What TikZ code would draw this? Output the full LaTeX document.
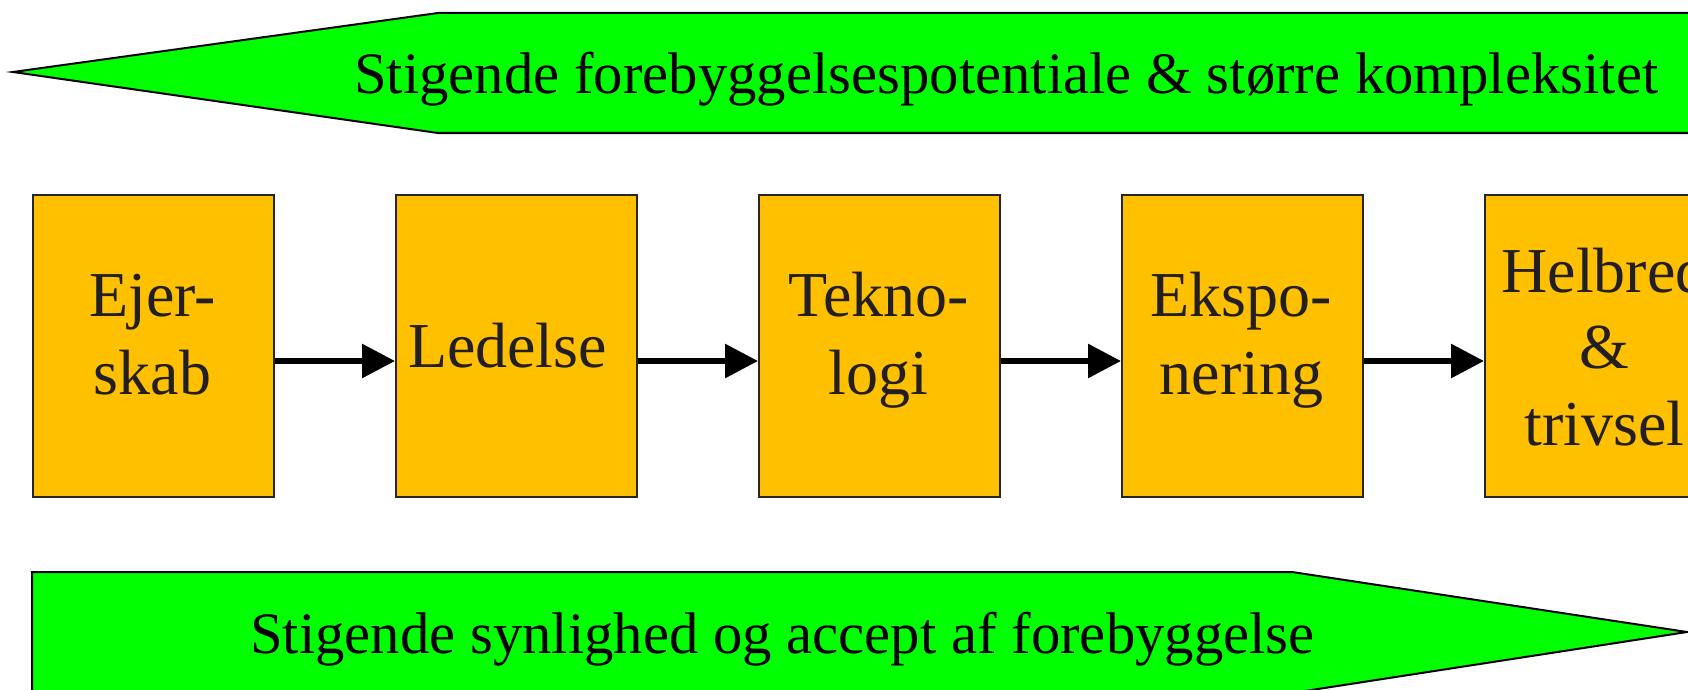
\documentclass[tikz,border=0pt]{standalone}
\usepackage{fontspec}
\setmainfont{Liberation Serif}
\usetikzlibrary{arrows.meta}
\definecolor{bandgreen}{HTML}{00FF00}
\definecolor{boxorange}{HTML}{FFC000}
\definecolor{boxtext}{HTML}{231F20}
\tikzset{
  band/.style={fill=bandgreen, draw=black, line width=2pt, line join=miter},
  stepbox/.style={rectangle, fill=boxorange, draw=black!85, line width=2pt,
    minimum width=241pt, minimum height=302pt, inner sep=0pt, anchor=north west},
  boxlbl/.style={inner sep=0pt, anchor=base, text=boxtext, font=\fontsize{64}{76}\selectfont},
  bandlbl/.style={inner sep=0pt, anchor=base west, text=black, font=\fontsize{58.7}{70}\selectfont},
  flow/.style={line width=6pt, -{Triangle[length=33pt,width=33pt]}}
}
\begin{document}
\begin{tikzpicture}[x=1pt,y=-1pt]
\useasboundingbox[fill=white] (0,0) rectangle (1688,690);
% top band (pointing left)
\draw[band] (13,72) -- (438,13) -- (1700,13) -- (1700,133) -- (438,133) -- cycle;
\node[bandlbl] (toptext) at (354,94) {Stigende forebyggelsespotentiale \& større kompleksitet};
% bottom band (pointing right)
\draw[band] (32,572) -- (1292,572) -- (1687,632) -- (1292,693) -- (32,693) -- cycle;
\node[bandlbl] (bottext) at (250,653) {Stigende synlighed og accept af forebyggelse};
% boxes
\node[stepbox] (b1) at (32,194) {};
\node[stepbox] (b2) at (395,194) {};
\node[stepbox] (b3) at (758,194) {};
\node[stepbox] (b4) at (1121,194) {};
\node[stepbox] (b5) at (1484,194) {};
% box texts
\node[boxlbl] (b1a) at (152.5,316) {Ejer-};
\node[boxlbl] (b1b) at (152.5,394) {skab};
\node[boxlbl] (b2a) at (507.5,367) {Ledelse};
\node[boxlbl] (b3a) at (878.5,316) {Tekno-};
\node[boxlbl] (b3b) at (878.5,394) {logi};
\node[boxlbl] (b4a) at (1241.5,316) {Ekspo-};
\node[boxlbl] (b4b) at (1241.5,394) {nering};
\node[boxlbl] (b5a) at (1604.5,292) {Helbred};
\node[boxlbl] (b5b) at (1604.5,368) {\&};
\node[boxlbl] (b5c) at (1604.5,445) {trivsel};
% connectors
\draw[flow] ([yshift=-15pt]b1.east) -- ([yshift=-15pt]b2.west);
\draw[flow] ([yshift=-15pt]b2.east) -- ([yshift=-15pt]b3.west);
\draw[flow] ([yshift=-15pt]b3.east) -- ([yshift=-15pt]b4.west);
\draw[flow] ([yshift=-15pt]b4.east) -- ([yshift=-15pt]b5.west);
\end{tikzpicture}
\end{document}
